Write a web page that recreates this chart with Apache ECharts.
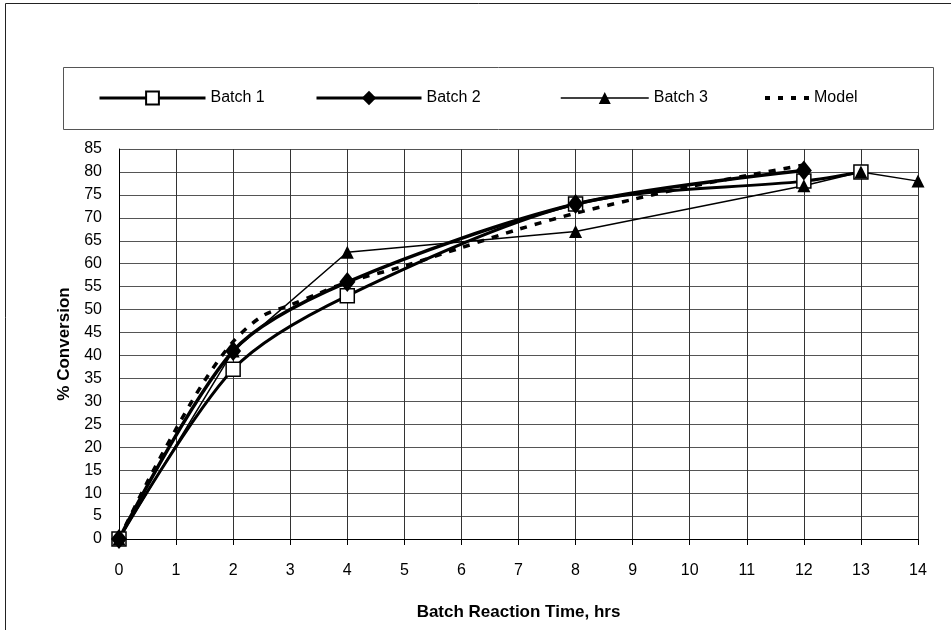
<!DOCTYPE html>
<html>
<head>
    <meta charset="UTF-8">
    <title>Batch conversion</title>
    <script src="https://cdn.jsdelivr.net/npm/echarts@6/dist/echarts.min.js"></script>
</head>
<body style="margin:0">
<div id="main" style="width: 951px;height:630px;"></div>
<script type="text/javascript">
    // data
    var batch1X = [0, 2, 4, 8, 12, 13];
    var batch1Y = [0, 37, 53, 73, 78, 80];
    var batch2X = [0, 2, 4, 8, 12];
    var batch2Y = [0, 41, 56, 73, 80.3];
    var batch3X = [0, 2, 4, 8, 12, 13, 14];
    var batch3Y = [0, 41, 62.5, 67, 77, 80, 78];
    var modelX = [0, 0.5, 1, 1.5, 2, 2.5, 3, 3.5, 4, 5, 6, 7, 8, 9, 10, 11, 12];
    var modelY = [0, 12.5, 24, 34.5, 43, 48.5, 51, 53.5, 56, 59.5, 63.5, 67.5, 71, 74, 76.8, 79.2, 81.5];

    function pairs(xs, ys) {
        var out = [];
        for (var i = 0; i < xs.length; i++) out.push([xs[i], ys[i]]);
        return out;
    }

    var font = 'Liberation Sans, Arial, sans-serif';
    var legendText = {color: '#000', fontSize: 16, fontFamily: font};

    function legendAt(item, left, top, w, h, lw) {
        return {
            data: [item], left: left, top: top, padding: 0,
            itemWidth: w, itemHeight: h,
            lineStyle: {width: lw},
            textStyle: legendText, selectedMode: false
        };
    }

    var myChart = echarts.init(document.getElementById('main'));

    var option = {
        animation: false,
        backgroundColor: '#fff',
        graphic: [
            {type: 'rect', shape: {x: 5.5, y: 3.5, width: 960, height: 640}, style: {fill: null, stroke: '#222', lineWidth: 1}},
            {type: 'rect', shape: {x: 63.5, y: 67.5, width: 870, height: 62}, style: {fill: null, stroke: '#555', lineWidth: 1}}
        ],
        legend: [
            legendAt('Batch 1', 98, 90, 106, 16, 3),
            legendAt('Batch 2', 315, 90, 105, 18, 3),
            legendAt('Batch 3', 560, 90, 88, 15, 1.5),
            legendAt({name: 'Model', icon: 'path://M0,0h5v4h-5z M13,0h5v4h-5z M26,0h5v4h-5z M39,0h5v4h-5z'}, 765, 90, 44, 4, 3)
        ],
        grid: {left: 119, right: 33, top: 149, bottom: 91},
        xAxis: {
            type: 'value', min: 0, max: 14, interval: 1,
            name: 'Batch Reaction Time, hrs', nameLocation: 'middle', nameGap: 65,
            nameTextStyle: {color: '#000', fontSize: 17, fontWeight: 'bold', fontFamily: font},
            axisLine: {lineStyle: {color: '#000', width: 1}},
            axisTick: {show: true, length: 6, lineStyle: {color: '#000'}},
            axisLabel: {color: '#000', fontSize: 16, fontFamily: font, margin: 24},
            splitLine: {show: true, lineStyle: {color: '#333', width: 1}}
        },
        yAxis: {
            type: 'value', min: 0, max: 85, interval: 5,
            name: '% Conversion', nameLocation: 'middle', nameGap: 38,
            nameTextStyle: {color: '#000', fontSize: 17, fontWeight: 'bold', fontFamily: font},
            axisLine: {show: true, lineStyle: {color: '#000', width: 1}},
            axisTick: {show: false},
            axisLabel: {color: '#000', fontSize: 16, fontFamily: font, margin: 17},
            splitLine: {show: true, lineStyle: {color: '#555', width: 1}}
        },
        series: [
            {
                name: 'Batch 1', type: 'line', smooth: 0.3,
                symbol: 'rect', symbolSize: 14,
                lineStyle: {color: '#000', width: 3},
                itemStyle: {color: '#fff', borderColor: '#000', borderWidth: 1.5},
                data: pairs(batch1X, batch1Y)
            },
            {
                name: 'Batch 2', type: 'line', smooth: 0.3,
                symbol: 'diamond', symbolSize: [16, 20],
                lineStyle: {color: '#000', width: 3.5},
                itemStyle: {color: '#000'},
                data: pairs(batch2X, batch2Y)
            },
            {
                name: 'Batch 3', type: 'line', smooth: false,
                symbol: 'triangle', symbolSize: 13,
                lineStyle: {color: '#000', width: 1.5},
                itemStyle: {color: '#000'},
                data: pairs(batch3X, batch3Y)
            },
            {
                name: 'Model', type: 'line', smooth: 0.3,
                symbol: 'none',
                lineStyle: {color: '#000', width: 3.5, type: [7, 8]},
                itemStyle: {color: '#000'},
                data: pairs(modelX, modelY)
            }
        ]
    };

    myChart.setOption(option);
</script>
</body>
</html>
